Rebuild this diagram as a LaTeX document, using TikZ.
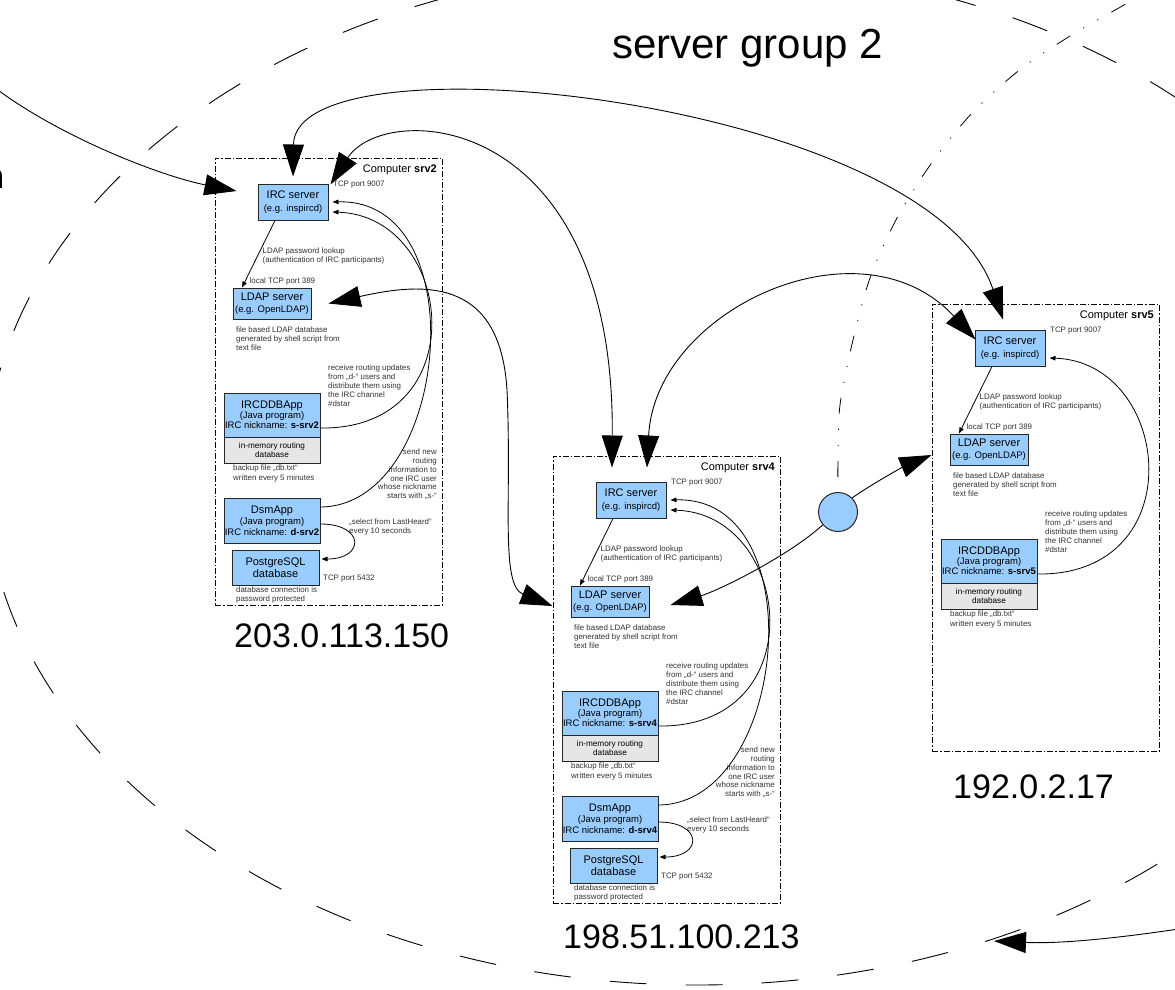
\documentclass[tikz,border=0pt]{standalone}
\usepackage{fontspec}
\setmainfont{Liberation Sans}
\usetikzlibrary{arrows.meta}

\definecolor{boxblue}{HTML}{99CCFF}
\definecolor{boxgray}{HTML}{E6E6E6}
\definecolor{inkgray}{HTML}{333333}

\tikzset{
  Big/.tip={Triangle[length=32pt,width=21pt]},
  Small/.tip={Triangle[length=6pt,width=4.5pt]},
  comp/.style={draw=black, line width=0.8pt,
    dash pattern=on 6pt off 2pt on 1.5pt off 2pt,
    minimum width=227pt, minimum height=447pt, inner sep=0pt},
  appbox/.style={draw=black!85, line width=1pt, fill=boxblue,
    inner sep=0pt, align=center},
  membox/.style={appbox, fill=boxgray},
  note/.style={inner sep=0pt, align=left, text=inkgray,
    font=\fontsize{7.9}{9}\selectfont},
  link/.style={line width=0.8pt, -{Small}},
  bigone/.style={line width=0.9pt, -{Big}},
  bigtwo/.style={line width=0.9pt, {Big}-{Big}},
  rim/.style={line width=0.9pt, dash pattern=on 37pt off 39pt},
  trail/.style={line width=0.8pt,
    dash pattern=on 16pt off 15pt on 1.2pt off 15pt on 1.2pt off 15pt,
    dash phase=48.4pt},
  iplabel/.style={anchor=base west, inner sep=0pt,
    font=\fontsize{34}{40}\selectfont},
}

% IRC server, LDAP server and IRCDDBApp of one computer
% #1 prefix, #2 x, #3 y, #4 host name
\newcommand\hostcore[4]{%
\begin{scope}[shift={(#2,#3)}, name prefix=#1-]
  \node[comp] (frame) at (113.5,223.5) {};
  \node[anchor=base east, inner sep=0pt, font=\fontsize{11}{13}\selectfont]
    (title) at (222,14) {Computer \textbf{#4}};
  \node[appbox, minimum width=70pt, minimum height=36pt,
    font=\fontsize{9.5}{13}\selectfont] (irc) at (78,44)
    {{\fontsize{11}{13}\selectfont IRC server}\\(e.g. inspircd)};
  \node[note, anchor=north west] (tcpirc) at (118,23) {TCP port 9007};
  \node[note, anchor=north west, font=\fontsize{7.9}{8.5}\selectfont] (pwnote) at (47.5,90)
    {LDAP password lookup\\(authentication of IRC participants)};
  \node[note, anchor=north west] (tcpldap) at (34.5,120) {local TCP port 389};
  \node[appbox, minimum width=78pt, minimum height=31pt,
    font=\fontsize{9.5}{12.5}\selectfont] (ldap) at (57,145.5)
    {{\fontsize{11}{12.5}\selectfont LDAP server}\\(e.g. OpenLDAP)};
  \node[note, anchor=north west] (ldapnote) at (21,169)
    {file based LDAP database\\generated by shell script from\\text file};
  \node[note, anchor=north west, font=\fontsize{7.9}{8.8}\selectfont] (recvnote) at (113,207)
    {receive routing updates\\from „d-“ users and\\distribute them using\\the IRC channel\\\#dstar};
  \node[appbox, minimum width=96pt, minimum height=44pt,
    font=\fontsize{9.5}{10}\selectfont] (ircddb) at (57,257)
    {{\fontsize{11}{10}\selectfont IRCDDBApp}\\(Java program)\\IRC nickname: \textbf{s-#4}};
  \node[membox, minimum width=96pt, minimum height=26pt,
    font=\fontsize{8.2}{9}\selectfont] (mem) at (57,292)
    {in-memory routing\\database};
  \node[note, anchor=north west, font=\fontsize{7.9}{9.3}\selectfont] (backup) at (18,307)
    {backup file „db.txt“\\written every 5 minutes};
  \draw[link] ([xshift=-18pt]irc.south) -- ([xshift=-30pt]ldap.north);
  \draw[link] ([yshift=-13pt]ircddb.east) .. controls (262,272) and (240,58)
    .. ([xshift=4pt,yshift=-10pt]irc.east);
\end{scope}}

% DsmApp and PostgreSQL part of a computer
\newcommand\hostdsm[4]{%
\begin{scope}[shift={(#2,#3)}, name prefix=#1-]
  \node[note, anchor=north east, align=right, font=\fontsize{7.9}{8.7}\selectfont]
    (sendnote) at (222,291)
    {send new\\routing\\information to\\one IRC user\\whose nickname\\starts with „s-“};
  \node[appbox, minimum width=96pt, minimum height=45pt,
    font=\fontsize{9.5}{11}\selectfont] (dsm) at (57,362.5)
    {{\fontsize{11}{11}\selectfont DsmApp}\\(Java program)\\IRC nickname: \textbf{d-#4}};
  \node[note, anchor=north west] (selnote) at (134,361)
    {„select from LastHeard“\\every 10 seconds};
  \node[appbox, minimum width=87pt, minimum height=35pt,
    font=\fontsize{11}{12.5}\selectfont] (pg) at (60.5,409.5)
    {PostgreSQL\\database};
  \node[note, anchor=north west] (tcppg) at (108,417) {TCP port 5432};
  \node[note, anchor=north west] (pgnote) at (21,429)
    {database connection is\\password protected};
  \draw[link] ([yshift=13.5pt]dsm.east) .. controls (235,348) and (262,40)
    .. ([xshift=4pt]irc.east);
  \draw[link] ([yshift=-3.5pt]dsm.east) .. controls (150,366) and (150,401)
    .. ([xshift=2pt,yshift=8.5pt]pg.east);
\end{scope}}

\begin{document}
\begin{tikzpicture}[x=1pt, y=-1pt]
\useasboundingbox (0,0) rectangle (1175,989);
\fill[white] (0,0) rectangle (1175,989);

% outline of the server group
\draw[rim] (697,475) ellipse [x radius=712pt, y radius=510pt];

\node[anchor=base east, inner sep=0pt, font=\fontsize{42}{48}\selectfont]
  (grouplabel) at (883,58) {server group 2};
\node[anchor=base west, inner sep=0pt, font=\fontsize{34}{40}\selectfont]
  (prevlabel) at (-14.7,188) {h};

% the three computers
\hostcore{s2}{215}{158}{srv2}
\hostdsm{s2}{215}{158}{srv2}
\hostcore{s4}{553}{456}{srv4}
\hostdsm{s4}{553}{456}{srv4}
\hostcore{s5}{932}{304}{srv5}

\node[iplabel] (ip2) at (234,647) {203.0.113.150};
\node[iplabel] (ip4) at (563,948) {198.51.100.213};
\node[iplabel] (ip5) at (953,798) {192.0.2.17};

% link point between srv4 and srv5
\node[circle, draw=black!85, line width=1pt, fill=boxblue,
  minimum size=39pt, inner sep=0pt] (hub) at (838,512) {};

% IRC server links
\coordinate (westin) at (-10,84);
\draw[bigone] (westin) .. controls (55,135) and (160,176)
  .. ([xshift=-21pt,yshift=11pt]s2-irc.west);
\draw[bigtwo] ([yshift=7pt]s2-irc.north) .. controls (295,30) and (930,100)
  .. ([xshift=-7pt,yshift=10pt]s5-irc.north);
\draw[bigtwo] ([xshift=2pt,yshift=-1pt]s2-irc.north east) .. controls (385,100) and (615,110)
  .. ([xshift=-19pt,yshift=14pt]s4-irc.north);
\draw[bigtwo] ([xshift=16pt,yshift=14pt]s4-irc.north) .. controls (655,310) and (860,215)
  .. ([xshift=1pt,yshift=-10pt]s5-irc.north west);

% LDAP server links
\draw[bigtwo] ([xshift=17pt]s2-ldap.east) .. controls (420,283) and (500,275)
  .. (507,390) .. controls (512,500) and (500,585)
  .. ([xshift=-18pt,yshift=-4.5pt]s4-ldap.west);
\draw[bigone] (hub.220) .. controls (790,555) and (720,590)
  .. ([xshift=21pt,yshift=-3.5pt]s4-ldap.east);
\draw[bigone] (hub.45) .. controls (875,482) and (905,466)
  .. ([xshift=-18pt,yshift=-5.5pt]s5-ldap.west);

% boundary trail from the link point
\draw[trail] plot[smooth] coordinates {(hub.north) (838,458) (840,405) (853,340)
  (870,278) (897,218) (933,161) (973,112) (1022,68) (1075,33) (1133,0) (1165,-18)};

% incoming link at the lower right
\coordinate (eastin) at (1185,928);
\coordinate (rimhit) at (994,941);
\draw[bigone] (eastin) .. controls (1120,938) and (1060,944) .. (rimhit);
\end{tikzpicture}
\end{document}
